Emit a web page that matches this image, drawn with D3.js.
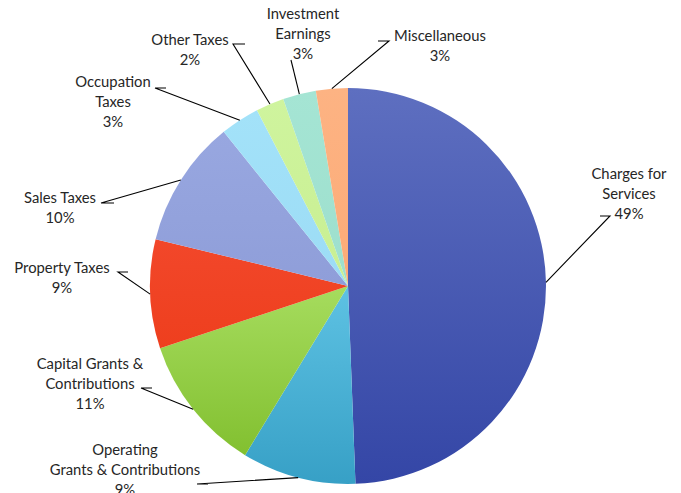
<!DOCTYPE html>
<html><head><meta charset="utf-8">
<script src="https://cdn.jsdelivr.net/npm/d3@7"></script>
<style>body{margin:0;background:#fff}svg{display:block}text{font-family:Lato,"Open Sans",sans-serif;font-size:14.8px;fill:#262626}</style>
</head><body><svg id="c" width="681" height="493"></svg>
<script>
const categories = ["Charges for Services","Operating Grants & Contributions","Capital Grants & Contributions","Property Taxes","Sales Taxes","Occupation Taxes","Other Taxes","Investment Earnings","Miscellaneous"];
const values = [49.4, 9.3, 11.2, 8.9, 10.4, 3.2, 2.3, 2.7, 2.6];
const percentLabels = ["49%","9%","11%","9%","10%","3%","2%","3%","3%"];
const labelLines = [["Charges for","Services"],["Operating","Grants & Contributions"],["Capital Grants &","Contributions"],["Property Taxes"],["Sales Taxes"],["Occupation","Taxes"],["Other Taxes"],["Investment","Earnings"],["Miscellaneous"]];

// styling / layout
const colorsTop = ["#5e6fc0","#5ec2e3","#a6dc5e","#f2472a","#98a7e0","#a3e2f9","#cff49e","#a5e5d4","#fdb383"];
const colorsBot = ["#3446a6","#37a0c6","#82c030","#ee3f1e","#8f9ed9","#9cdcf5","#c8ef92","#9ddfcd","#fcab77"];
// label text: center x, first-line center y; leader: elbow start (sx,sy), elbow end (ex,ey)
const labelLayout = [
  {x:629,y:174,sx:610,sy:216,ex:600,ey:216},
  {x:125,y:450,sx:197,sy:484,ex:208,ey:484},
  {x:90,y:364,sx:141,sy:388,ex:152,ey:388},
  {x:62,y:268,sx:118,sy:272,ex:128,ey:272},
  {x:60,y:198,sx:101,sy:203,ex:114,ey:203},
  {x:113,y:82,sx:155,sy:88,ex:166,ey:88},
  {x:190,y:40,sx:233,sy:44,ex:245,ey:44},
  {x:303,y:14,sx:291,sy:60,ex:291,ey:60},
  {x:440,y:36,sx:389,sy:41,ex:378,ey:41}
];
const cx=348, cy=286, R=198, lineH=19.7;

const svg=d3.select("#c");
const defs=svg.append("defs");
colorsTop.forEach((c,i)=>{
  const g=defs.append("linearGradient").attr("id","g"+i).attr("x1",0).attr("y1",0).attr("x2",0).attr("y2",1);
  g.append("stop").attr("offset","0%").attr("stop-color",c);
  g.append("stop").attr("offset","100%").attr("stop-color",colorsBot[i]);
});
const pie=d3.pie().sort(null).value(d=>d);
const arcs=pie(values);
const arc=d3.arc().innerRadius(0).outerRadius(R);
const gp=svg.append("g").attr("transform",`translate(${cx},${cy})`);
gp.selectAll("path").data(arcs).join("path").attr("d",arc).attr("fill",(d,i)=>`url(#g${i})`);

arcs.forEach((a,i)=>{
  const L=labelLayout[i];
  const m=(a.startAngle+a.endAngle)/2;
  const px=cx+R*Math.sin(m), py=cy-R*Math.cos(m);
  svg.append("polyline").attr("points",`${L.ex},${L.ey} ${L.sx},${L.sy} ${px},${py}`)
    .attr("fill","none").attr("stroke","#000").attr("stroke-width",1.1);
  const lines=labelLines[i].concat([percentLabels[i]]);
  const t=svg.append("text").attr("text-anchor","middle");
  lines.forEach((s,k)=>t.append("tspan").attr("x",L.x).attr("y",L.y+k*lineH).attr("dy","0.35em").text(s));
});
</script></body></html>
